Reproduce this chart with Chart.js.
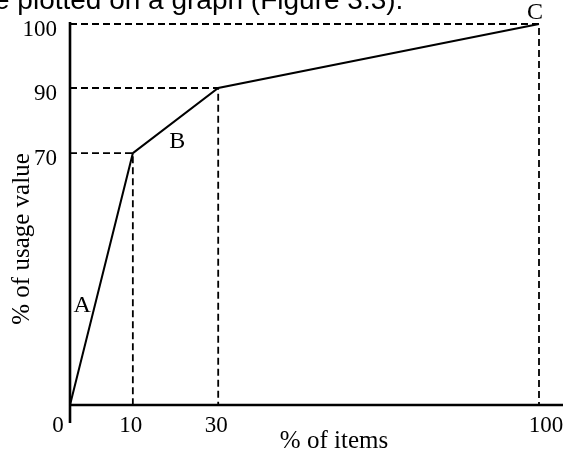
<!DOCTYPE html>
<html>
<head>
<meta charset="utf-8">
<script src="https://cdn.jsdelivr.net/npm/chart.js@4.4.1/dist/chart.umd.min.js"></script>
<style>
  html, body { margin: 0; padding: 0; background: #fff; }
  #wrap { width: 563px; height: 451px; position: relative; }
</style>
</head>
<body>
<div id="wrap"><canvas id="abcChart"></canvas></div>
<script>
// ABC analysis curve
const itemPct = [0, 10, 30, 100];      // % of items (cumulative)
const usagePct = [0, 70, 90, 100];     // % of usage value (cumulative)
const classNames = ['A', 'B', 'C'];
const xTickValues = [10, 30, 100];
const yTickValues = [70, 90, 100];
const originLabel = '0';
const xTitle = '% of items';
const yTitle = '% of usage value';
const caption = 'e plotted on a graph (Figure 3.3).';

// the sketch is not drawn to scale, so each axis is piecewise linear
const axisBreaks = {
  x: { at: [0, 10, 30, 100], frac: [0, 0.134, 0.316, 1] },
  y: { at: [0, 70, 90, 100], frac: [0, 0.661, 0.832, 1] }
};

class PiecewiseScale extends Chart.LinearScale {
  getPixelForValue(value) {
    const { at, frac } = axisBreaks[this.axis];
    let i = 1;
    while (i < at.length - 1 && value > at[i]) i++;
    const t = (value - at[i - 1]) / (at[i] - at[i - 1]);
    return this.getPixelForDecimal(frac[i - 1] + t * (frac[i] - frac[i - 1]));
  }
  getValueForPixel(pixel) {
    const { at, frac } = axisBreaks[this.axis];
    const d = this.getDecimalForPixel(pixel);
    let i = 1;
    while (i < frac.length - 1 && d > frac[i]) i++;
    const t = (d - frac[i - 1]) / (frac[i] - frac[i - 1]);
    return at[i - 1] + t * (at[i] - at[i - 1]);
  }
}
PiecewiseScale.id = 'piecewise';
PiecewiseScale.defaults = Chart.LinearScale.defaults;
Chart.register(PiecewiseScale);

const curve = itemPct.map((x, i) => ({ x: x, y: usagePct[i] }));

// dashed guides from each break point back to both axes
const guides = itemPct.slice(1).map((x, i) => ({
  data: [{ x: 0, y: usagePct[i + 1] }, { x: x, y: usagePct[i + 1] }, { x: x, y: 0 }],
  borderColor: '#000',
  borderWidth: 1.8,
  borderDash: [7, 4],
  pointRadius: 0,
  clip: false
}));

const serif = '"Liberation Serif", "Times New Roman", serif';

const sketchPlugin = {
  id: 'sketch',
  beforeDraw(chart) {
    const ctx = chart.ctx;
    ctx.save();
    ctx.fillStyle = '#fff';
    ctx.fillRect(0, 0, chart.width, chart.height);
    ctx.restore();
  },
  beforeDatasetsDraw(chart) {
    const { ctx, scales: { x, y } } = chart;
    const x0 = x.getPixelForValue(0);
    const y0 = y.getPixelForValue(0);
    ctx.save();
    ctx.strokeStyle = '#000';
    ctx.lineWidth = 2.6;
    ctx.beginPath();
    ctx.moveTo(x0, y.getPixelForValue(100) - 2);
    ctx.lineTo(x0, y0 + 18);
    ctx.moveTo(x0, y0);
    ctx.lineTo(chart.width, y0);
    ctx.stroke();
    ctx.restore();
  },
  afterDraw(chart) {
    const { ctx, scales: { x, y } } = chart;
    const x0 = x.getPixelForValue(0);
    const y0 = y.getPixelForValue(0);
    ctx.save();
    ctx.fillStyle = '#000';
    ctx.textBaseline = 'alphabetic';

    // caption line cut off at the top
    ctx.font = '28px "Liberation Sans", Arial, sans-serif';
    ctx.textAlign = 'left';
    ctx.fillText(caption, -6, 9);

    // tick labels
    ctx.font = '23px ' + serif;
    ctx.textAlign = 'right';
    yTickValues.forEach(v => ctx.fillText(String(v), 57, y.getPixelForValue(v) + 12));
    ctx.textAlign = 'center';
    xTickValues.forEach(v => ctx.fillText(String(v), x.getPixelForValue(v) + (v === 100 ? 7 : -2), y0 + 27));
    ctx.fillText(originLabel, x0 - 12, y0 + 27);

    // axis titles
    ctx.font = '25px ' + serif;
    ctx.fillText(xTitle, 334, y0 + 43);
    ctx.save();
    ctx.translate(29, 239);
    ctx.rotate(-Math.PI / 2);
    ctx.fillText(yTitle, 0, 0);
    ctx.restore();

    // class letters next to the segments
    const px = i => x.getPixelForValue(itemPct[i]);
    const py = i => y.getPixelForValue(usagePct[i]);
    const along = (i, t) => [px(i) + t * (px(i + 1) - px(i)), py(i) + t * (py(i + 1) - py(i))];
    const spots = [
      [along(0, 0.4), -13, 8],
      [along(1, 0.52), 0, 29],
      [[px(3), py(3)], -4, -5]
    ];
    ctx.font = '24px ' + serif;
    classNames.forEach((name, i) => {
      const [[sx, sy], dx, dy] = spots[i];
      ctx.fillText(name, sx + dx, sy + dy);
    });
    ctx.restore();
  }
};

new Chart(document.getElementById('abcChart'), {
  type: 'line',
  data: {
    datasets: [
      {
        data: curve,
        borderColor: '#000',
        borderWidth: 2,
        pointRadius: 0,
        tension: 0,
        clip: false
      },
      ...guides
    ]
  },
  options: {
    responsive: true,
    maintainAspectRatio: false,
    animation: false,
    layout: { padding: { left: 70, right: 24, top: 24, bottom: 46 } },
    plugins: { legend: { display: false }, tooltip: { enabled: false } },
    scales: {
      x: { type: 'piecewise', min: 0, max: 100, display: false },
      y: { type: 'piecewise', min: 0, max: 100, display: false }
    }
  },
  plugins: [sketchPlugin]
});
</script>
</body>
</html>
